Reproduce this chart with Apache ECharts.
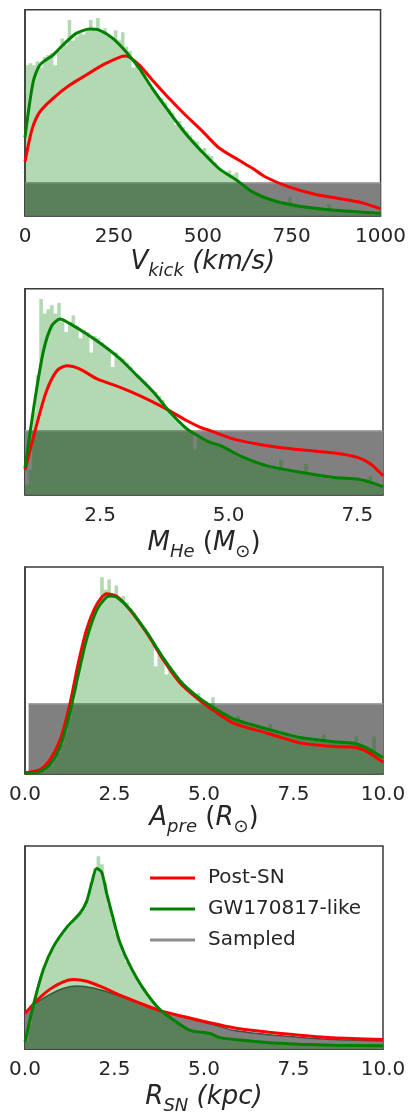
<!DOCTYPE html>
<html><head><meta charset="utf-8">
<script src="https://cdn.jsdelivr.net/npm/echarts@6/dist/echarts.min.js"></script>
<style>html,body{margin:0;padding:0;background:#fff}#c{width:409px;height:1116px}</style>
</head><body><div id="c"></div>
<script>
// ---------- Panel 1: V_kick (km/s) ----------
const vkickRange = [0, 1000];
const vkickTicks = [0, 250, 500, 750, 1000];
const vkickHist = [
  73,74,73,75,72,77,78,79,73,80,
  86,83,95,85,87,89,88,91,95,90,
  96,89,91,88,86,90,85,89,82,80,
  72,74,70,69,65,62,61,58,57,55,
  52,50,44,46,43,41,39,37,36,32,
  33,30,29,26,23,22,21,22,20,21,
  16,15,13,12,11,10.5,9.5,9,8,7.5,
  7,6.5,6,6,8.7,5,4.8,4.5,4.2,4,
  3.8,3.6,3.4,3.2,3,5.4,2.8,2.6,2.5,2.3,
  2.2,2.1,2,1.9,1.8,1.7,1.5,1.4,1.3,1.2
];
const vkickSampled = 16.0;
const vkickPostSN = [[0,26.2],[20,42],[42,50.5],[79,57],[126,63.4],[172,68.3],[219,73.2],[265,76.9],[284,77.5],[321,73.2],[358,65.9],[405,57],[451,48.9],[498,41.2],[545,33],[601,27],[640,23],[675,18.9],[740,14.1],[815,10.4],[908,7.6],[954,6],[1000,3.3]];
const vkickGW = [[0,38],[23,65],[42,73.2],[79,78],[107,82.9],[144,88.5],[182,90.6],[209,90.1],[247,86.1],[284,79.6],[321,71.6],[358,61.8],[405,50.5],[451,40],[498,31],[545,23],[601,16.5],[638,11.7],[694,7.6],[768,4.7],[861,2.8],[1000,1.2]];

// ---------- Panel 2: M_He (M_sun) ----------
const mheRange = [1.04, 8.0];
const mheTicks = [2.5, 5.0, 7.5];
const mheHist = [
  5,12,40,58,95,88,90,92,88,93,
  84,79,84,87,82,76,80,79,69,77,
  76,74,72,71,62,69,67,66,64,62,
  59,58,56,55,53,51,50,48,46,42,
  41,39,36,34,33,31,30,22,28,27,
  26,25,25,24,24,23,22,21,20,19,
  18,18,17,16,16,15,15,14,14,13.5,
  13,17,12.5,12,12,11.5,11,11,15,10.5,
  10,10,9.5,9.5,9,9,8.5,8.5,8,8,
  8,7.5,7.5,7.5,7,7,9,6,5,4.5
];
const mheSampled = 31.1;
const mhePostSN = [[1.04,12],[1.27,34.3],[1.46,50.5],[1.66,60.2],[1.85,62.6],[2.11,61],[2.44,56.2],[2.89,52.1],[3.28,48],[3.73,42.4],[4.19,35.9],[4.45,32.7],[4.64,31.1],[5.10,27],[5.75,23.8],[6.40,21.8],[7.05,20.2],[7.50,18.1],[7.76,14.9],[8.0,9.2]];
const mheGW = [[1.04,13],[1.23,45.6],[1.40,69.9],[1.56,82],[1.72,85.3],[1.92,82.9],[2.24,78],[2.57,72.3],[2.89,65.9],[3.22,57.8],[3.54,49.7],[3.86,40],[4.19,31.9],[4.45,27.9],[4.64,25.4],[4.84,23.8],[5.29,18.1],[5.75,14],[6.40,10.9],[7.05,8.4],[7.5,7.6],[7.76,6],[8.0,3.9]];

// ---------- Panel 3: A_pre (R_sun) ----------
const apreRange = [0, 10];
const apreTicks = [0, 2.5, 5, 7.5, 10];
const apreHist = [
  0,0,0,0.5,1,1.5,2.5,4,7,10,
  14,20,27,35,44,53,64,72,76,80,
  83,95,89,94,87,91,85,86,83,80,
  78,75,72,70,67,63,52,58,56,48,
  52,49,47,45,43,41,40,38,39,36,
  35,34,37,32,31,30,29,27,27,28,
  25.5,25,24.5,24,23.5,23,22.5,22,24,21,
  20.5,20,19.5,19,18.5,18,17.5,17.5,17,16.5,
  16.5,16,16,19,15.5,15.5,15.5,15,15,15,
  15,14.5,18,14,13.5,12.5,11.5,18,9,7
];
const apreSampledRange = [0.1, 10];
const apreSampled = 33.9;
const aprePostSN = [[0,0.5],[0.42,2],[0.7,6.8],[0.98,16.4],[1.26,34.2],[1.49,53.6],[1.72,69.7],[2.0,81.8],[2.28,87.1],[2.56,85.8],[2.93,79.3],[3.4,68.1],[3.86,55.2],[4.33,43.9],[4.8,36.6],[5.17,31.8],[5.82,24.5],[6.75,19.7],[7.68,14.9],[8.61,13.2],[9.17,12.9],[9.54,10.8],[10,5.5]];
const apreGW = [[0,0.3],[0.42,1],[0.7,4.5],[0.98,13],[1.26,30],[1.49,48],[1.72,65],[2.0,79],[2.28,85.5],[2.4,86],[2.56,85.5],[2.93,79.5],[3.4,68.5],[3.86,56],[4.33,45],[4.8,37.5],[5.17,33],[5.82,26.5],[6.75,21.7],[7.68,17.5],[8.61,15.5],[9.17,14.7],[9.54,12.5],[10,7.7]];

// ---------- Panel 4: R_SN (kpc) ----------
const rsnRange = [0, 10];
const rsnTicks = [0, 2.5, 5, 7.5, 10];
const rsnHist = [
  4,12,21,29,36,41,45,49,52,55,
  57,59,61,63,65,67,69,74,82,89,
  95,91,82,71,64,57,52,47,43,40,
  37,34,31,28.5,26,24,21.5,19.5,18,16.5,
  15,14,13,12,10.5,9.5,9,8.7,8.4,8.1,
  7.8,7.5,7,6.2,5.6,5.3,5,4.8,4.6,4.4,
  4.2,4,3.9,3.7,3.6,3.5,3.3,3.2,3.1,3,
  2.9,2.8,2.7,2.6,2.5,2.5,2.4,2.3,2.3,2.2,
  2.2,2.1,2.1,2,2,1.9,1.9,1.9,1.8,1.8,
  1.8,1.7,1.7,1.7,1.7,1.6,1.6,1.6,1.6,1.6
];
const rsnSampled = [[0,18],[0.33,22.9],[0.7,26.9],[1.07,29.8],[1.44,31],[1.91,30.1],[2.37,27.7],[2.84,24.9],[3.4,21.3],[3.96,18.1],[4.52,15.3],[5.17,12.4],[5.82,9.2],[6.75,7.1],[7.68,5.7],[8.61,4.7],[10,4]];
const rsnPostSN = [[0,17.5],[0.33,23.9],[0.7,29.5],[1.07,33.1],[1.35,34.2],[1.72,33.4],[2.19,30.2],[2.65,26.5],[3.12,23.2],[3.77,18.9],[4.52,15.6],[5.17,12.9],[5.82,10.5],[6.75,8.4],[7.68,6.8],[8.61,5.5],[10,4.7]];
const rsnGW = [[0,3.6],[0.23,21.3],[0.51,39],[0.79,50.3],[1.16,59.8],[1.54,67],[1.72,72.6],[1.86,81.6],[2.0,88.9],[2.14,87.2],[2.28,76.8],[2.47,63.8],[2.65,52.5],[2.93,41.2],[3.30,29.9],[3.77,19.4],[4.24,13.2],[4.61,9.2],[5.17,7.6],[5.45,5.6],[6.0,4.4],[6.75,3.2],[7.68,2.4],[8.61,1.9],[10,1.6]];

const legendNames = ['Post-SN', 'GW170817-like', 'Sampled'];

// ---------- build ----------
const TXT = '#262626', FRAME = '#3a3a3a';
const FONT = 'DejaVu Sans';
function histData(range, vals) {
  const w = (range[1] - range[0]) / vals.length;
  const d = vals.map((v, i) => [range[0] + i * w, v]);
  d.push([range[1], vals[vals.length - 1]]);
  return d;
}
const richStyles = {
  b: {fontSize: 26, fontStyle: 'italic', fontFamily: FONT, color: TXT, lineHeight: 30, verticalAlign: 'top'},
  r: {fontSize: 26, fontStyle: 'normal', fontFamily: FONT, color: TXT, lineHeight: 30, verticalAlign: 'top'},
  s: {fontSize: 18, fontStyle: 'italic', fontFamily: FONT, color: TXT, lineHeight: 22, padding: [13,0,0,0], verticalAlign: 'top'},
  so: {fontSize: 18, fontStyle: 'normal', fontFamily: FONT, color: TXT, lineHeight: 22, padding: [13,0,0,0], verticalAlign: 'top'}
};
const panels = [
  {top: 9.7, h: 206, range: vkickRange, ticks: vkickTicks, fmt: v => String(Math.round(v)), gap: 34,
   name: '{b|V}{s|kick}{b| (km/s)}', hist: vkickHist, sampled: [[vkickRange[0], vkickSampled],[vkickRange[1], vkickSampled]], smoothSampled: false,
   post: vkickPostSN, gw: vkickGW, sampledLine: '#a3a3a3'},
  {top: 288.7, h: 206, range: mheRange, ticks: mheTicks, fmt: v => v.toFixed(1), gap: 36,
   name: '{b|M}{s|He}{b| }{r|(}{b|M}{so|⊙}{r|)}', hist: mheHist, sampled: [[mheRange[0], mheSampled],[mheRange[1], mheSampled]], smoothSampled: false,
   post: mhePostSN, gw: mheGW, sampledLine: '#a3a3a3'},
  {top: 567, h: 206.7, range: apreRange, ticks: apreTicks, fmt: v => v.toFixed(1), gap: 31,
   name: '{b|A}{s|pre}{b| }{r|(}{b|R}{so|⊙}{r|)}', hist: apreHist, sampled: [[apreSampledRange[0], apreSampled],[apreSampledRange[1], apreSampled]], smoothSampled: false,
   post: aprePostSN, gw: apreGW, sampledLine: '#a3a3a3'},
  {top: 846, h: 206.7, range: rsnRange, ticks: rsnTicks, fmt: v => v.toFixed(1), gap: 35,
   name: '{b|R}{s|SN}{b| (kpc)}', hist: rsnHist, sampled: rsnSampled, smoothSampled: true,
   post: rsnPostSN, gw: rsnGW, sampledLine: '#4a4a4a'}
];
const grid = [], xAxis = [], yAxis = [], series = [];
const lineCommon = {showSymbol: false, silent: true, animation: false, clip: true, smooth: 0.25};
panels.forEach((p, k) => {
  grid.push({left: 25, width: 358, top: p.top, height: p.h, show: true, borderColor: FRAME, borderWidth: 1.5, backgroundColor: '#fff', containLabel: false});
  xAxis.push({type: 'value', gridIndex: k, min: p.range[0], max: p.range[1],
    axisLine: {show: true, onZero: false, lineStyle: {color: FRAME, width: 1.5}},
    axisTick: {show: false, customValues: p.ticks},
    splitLine: {show: false},
    axisLabel: {customValues: p.ticks, formatter: p.fmt, fontSize: 20, fontFamily: FONT, color: TXT, margin: 11, showMinLabel: true, showMaxLabel: true},
    name: p.name, nameLocation: 'middle', nameGap: p.gap,
    nameTextStyle: {rich: richStyles}
  });
  yAxis.push({type: 'value', gridIndex: k, min: 0, max: 100, axisLabel: {show: false}, axisTick: {show: false}, splitLine: {show: false},
    axisLine: {show: true, lineStyle: {color: FRAME, width: 1.5}}});
  series.push(Object.assign({}, lineCommon, {type: 'line', name: 'Sampled', xAxisIndex: k, yAxisIndex: k, data: p.sampled,
    smooth: p.smoothSampled ? 0.25 : false,
    itemStyle: {color: '#8c8c8c'}, lineStyle: {color: p.sampledLine, width: 1.5},
    areaStyle: {color: '#808080', opacity: 1}, z: 2}));
  series.push({type: 'line', name: 'hist', xAxisIndex: k, yAxisIndex: k, data: histData(p.range, p.hist), step: 'end',
    showSymbol: false, silent: true, animation: false, clip: true,
    lineStyle: {width: 0, opacity: 0}, areaStyle: {color: 'rgba(0,128,0,0.3)', opacity: 1}, z: 3});
  series.push(Object.assign({}, lineCommon, {type: 'line', name: 'Post-SN', xAxisIndex: k, yAxisIndex: k, data: p.post,
    itemStyle: {color: '#ff0000'}, lineStyle: {color: '#ff0000', width: 3}, z: 4}));
  series.push(Object.assign({}, lineCommon, {type: 'line', name: 'GW170817-like', xAxisIndex: k, yAxisIndex: k, data: p.gw,
    itemStyle: {color: '#008000'}, lineStyle: {color: '#008000', width: 3}, z: 5}));
});
const chart = echarts.init(document.getElementById('c'), null, {renderer: 'canvas'});
chart.setOption({
  animation: false,
  backgroundColor: '#fff',
  grid, xAxis, yAxis, series,
  legend: {
    data: legendNames.map(n => ({name: n, icon: 'rect', itemStyle: {color: n === 'Post-SN' ? '#ff0000' : n === 'Sampled' ? '#8c8c8c' : '#008000'}})),
    orient: 'vertical', left: 145, top: 863, itemWidth: 45, itemHeight: 3, itemGap: 11, selectedMode: false,
    textStyle: {fontSize: 20, fontFamily: FONT, color: TXT, lineHeight: 20, padding: [0, 0, 0, 8]}
  }
});
</script>
</body></html>
